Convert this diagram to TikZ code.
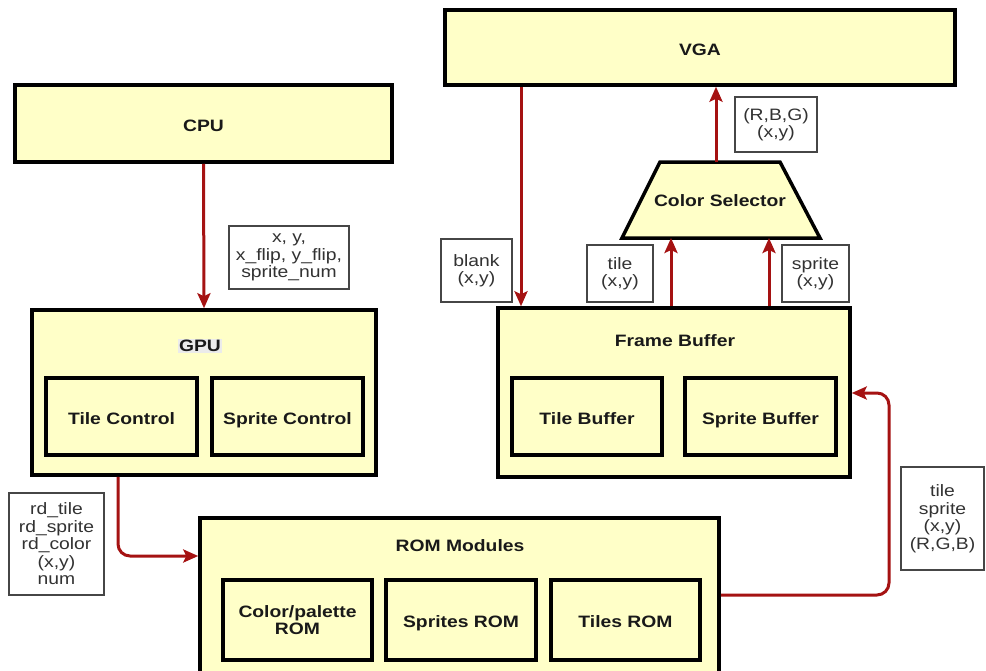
\documentclass[tikz,border=0pt]{standalone}
\usepackage{fontspec}
\setmainfont{Liberation Sans}[FakeStretch=1.17]
\usetikzlibrary{arrows.meta,calc}
\definecolor{boxfill}{RGB}{255,255,200}
\definecolor{wire}{RGB}{165,18,18}
\definecolor{tagtext}{RGB}{50,50,50}
\definecolor{tagline}{RGB}{70,70,70}
\begin{document}
\begin{tikzpicture}[x=1pt,y=-1pt,
  font=\fontsize{16.5}{17.5}\selectfont,
  box/.style={draw=black, line width=3.5pt, fill=boxfill, inner sep=0pt, font=\fontsize{16.5}{17.5}\selectfont\bfseries, text=black!90, align=center},
  oneline/.style={text height=15pt, text depth=0pt},
  title/.style={font=\fontsize{16.5}{17.5}\selectfont\bfseries, text=black!90, inner sep=1pt},
  tag/.style={draw=tagline, line width=1.2pt, fill=white, inner sep=0pt, text=tagtext, align=center},
  sz/.style 2 args={minimum width=#1, minimum height=#2},
  arr/.style={draw=wire, line width=3pt, -{Stealth[length=15pt,width=13pt,inset=3pt]}},
  wirecorner/.style={rounded corners=12pt}]
\clip (0,0) rectangle (986,670);
\fill[white] (0,0) rectangle (986,670);

% processor side
\node[box, oneline, sz={377}{77}] (cpu) at (203.5,123.5) {CPU};
\node[box, sz={344}{165}] (gpu) at (204,392.5) {};
\node[title, fill=black!8] (gpulbl) at (200,346) {GPU};
\node[box, oneline, sz={151}{77}] (tilectl) at (121.5,416.5) {Tile Control};
\node[box, oneline, sz={151}{77}] (spritectl) at (287.5,416.5) {Sprite Control};

% display side
\node[box, oneline, sz={510}{75}] (vga) at (700,47.5) {VGA};
\node[box, sz={352}{169}] (fb) at (674,392.5) {};
\node[title] (fblbl) at (675,341) {Frame Buffer};
\node[box, oneline, sz={150}{77}] (tilebuf) at (587,416.5) {Tile Buffer};
\node[box, oneline, sz={151}{77}] (spritebuf) at (760.5,416.5) {Sprite Buffer};

% colour selector (trapezoid)
\coordinate (cstl) at (660,162);
\coordinate (cstr) at (780,162);
\coordinate (csbr) at (820,238);
\coordinate (csbl) at (622,238);
\draw[line width=3.5pt, fill=boxfill, line join=miter] (cstl) -- (cstr) -- (csbr) -- (csbl) -- cycle;
\node[title] (cs) at (720,201) {Color Selector};

% ROM modules
\node[box, sz={519}{158}] (rom) at (459.5,597) {};
\node[title] (romlbl) at (460,546) {ROM Modules};
\node[box, sz={149}{80}, text depth=-4pt] (palrom) at (297.5,620) {Color/palette\\ROM};
\node[box, oneline, sz={150}{80}] (sprrom) at (461,620) {Sprites ROM};
\node[box, oneline, sz={149}{80}] (tilrom) at (625.5,620) {Tiles ROM};

% signal tags
\node[tag, sz={120}{63}] (tagcpu) at (289,257.5) {x, y,\\x\_flip, y\_flip,\\sprite\_num};
\node[tag, sz={71}{63}] (tagblank) at (476.5,270.5) {blank\\(x,y)};
\node[tag, sz={66}{57}] (tagtile) at (620,273.5) {tile\\(x,y)};
\node[tag, sz={67}{57}] (tagsprite) at (815.5,273.5) {sprite\\(x,y)};
\node[tag, sz={82}{55}] (tagrgb) at (776,124.5) {(R,B,G)\\(x,y)};
\node[tag, sz={95}{102}] (tagrd) at (56.5,544) {rd\_tile\\rd\_sprite\\rd\_color\\(x,y)\\num};
\node[tag, sz={83}{103}] (tagrom) at (942.5,518.5) {tile\\sprite\\(x,y)\\(R,G,B)};

% connectors
\draw[arr] (cpu.south) -- (gpu.north);

\coordinate (blankin) at (521,308);
\draw[arr] (vga.south -| blankin) -- (blankin |- fb.north);

\coordinate (csout) at (716,162);
\draw[arr] (csout) -- (csout |- vga.south);

\coordinate (csin1) at (671,238);
\coordinate (csin2) at (769,238);
\draw[arr] (fb.north -| csin1) -- (csin1);
\draw[arr] (fb.north -| csin2) -- (csin2);

\coordinate (g2r) at (118,556);
\draw[arr, wirecorner] (gpu.south -| g2r) -- (g2r) -- (g2r -| rom.west);

\coordinate (r2fa) at (889,595);
\coordinate (r2fb) at (889,393);
\draw[arr, wirecorner] (rom.east |- r2fa) -- (r2fa) -- (r2fb) -- (r2fb -| fb.east);
\end{tikzpicture}
\end{document}
